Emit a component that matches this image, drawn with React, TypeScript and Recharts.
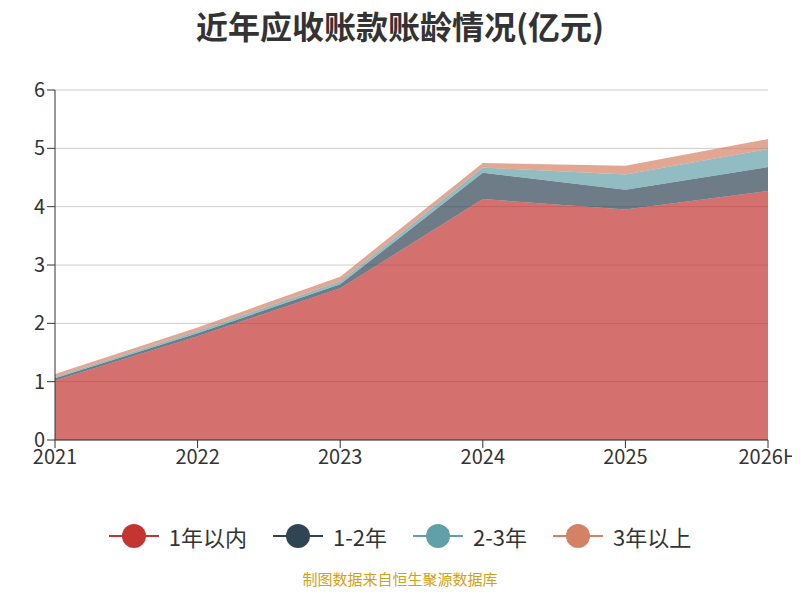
import { Area, AreaChart, CartesianGrid, XAxis, YAxis } from 'recharts';

const YEARS = ['2021', '2022', '2023', '2024', '2025', '2026H'];
const WITHIN_1Y = [1.02, 1.78, 2.6, 4.13, 3.95, 4.27];
const Y1_2 = [0.04, 0.05, 0.07, 0.45, 0.34, 0.41];
const Y2_3 = [0.02, 0.04, 0.05, 0.09, 0.26, 0.31];
const OVER_3Y = [0.05, 0.06, 0.08, 0.08, 0.15, 0.17];

const SERIES = [
  { key: 'a', name: '1年以内', color: '#c23531' },
  { key: 'b', name: '1-2年', color: '#2f4554' },
  { key: 'c', name: '2-3年', color: '#61a0a8' },
  { key: 'd', name: '3年以上', color: '#d48265' },
];

const data = YEARS.map((year, i) => ({ year, a: WITHIN_1Y[i], b: Y1_2[i], c: Y2_3[i], d: OVER_3Y[i] }));

const FONT = '"Microsoft YaHei", "Noto Sans CJK SC", sans-serif';

export default function App() {
  return (
    <div style={{ position: 'relative', width: 800, height: 600, margin: -8, background: '#fff', fontFamily: FONT, overflow: 'hidden' }}>
      <div style={{ position: 'absolute', top: 2, width: 800, textAlign: 'center', fontSize: 32, fontWeight: 'bold', color: '#333' }}>
        近年应收账款账龄情况(亿元)
      </div>
      <div style={{ position: 'absolute', left: -14, top: 100, transform: 'rotate(-90deg)', color: '#e00', fontSize: 12 }}>亿元</div>
      <div style={{ position: 'absolute', left: 0, top: 70 }}>
        <AreaChart width={800} height={400} data={data} margin={{ top: 20, right: 32, bottom: 0, left: 0 }} style={{ overflow: 'visible' }}>
          <CartesianGrid vertical={false} stroke="#ccc" />
          <XAxis dataKey="year" tick={{ fontSize: 20, fill: '#333' }} tickLine={{ stroke: '#333' }} axisLine={{ stroke: '#333' }} tickSize={8} dy={0}
            interval={0} />
          <YAxis domain={[0, 6]} ticks={[0, 1, 2, 3, 4, 5, 6]} width={55} tick={{ fontSize: 20, fill: '#333' }} tickLine={{ stroke: '#333' }} axisLine={{ stroke: '#333' }} tickSize={8} />
          {SERIES.map((s) => (
            <Area key={s.key} type="linear" dataKey={s.key} name={s.name} stackId="1" stroke="none" fill={s.color} fillOpacity={0.7} isAnimationActive={false} dot={false} activeDot={false} />
          ))}
        </AreaChart>
      </div>
      <div style={{ position: 'absolute', top: 520, width: 800, display: 'flex', justifyContent: 'center', gap: 26, fontSize: 22, color: '#333' }}>
        {SERIES.map((s) => (
          <div key={s.key} style={{ display: 'flex', alignItems: 'center', gap: 10 }}>
            <span style={{ position: 'relative', width: 50, height: 26, display: 'inline-block' }}>
              <span style={{ position: 'absolute', left: 0, right: 0, top: 12, height: 2, background: s.color }} />
              <span style={{ position: 'absolute', left: 13, top: 1, width: 24, height: 24, borderRadius: '50%', background: s.color }} />
            </span>
            <span>{s.name}</span>
          </div>
        ))}
      </div>
      <div style={{ position: 'absolute', top: 568, width: 800, textAlign: 'center', fontSize: 15, color: '#d4a017' }}>制图数据来自恒生聚源数据库</div>
    </div>
  );
}
